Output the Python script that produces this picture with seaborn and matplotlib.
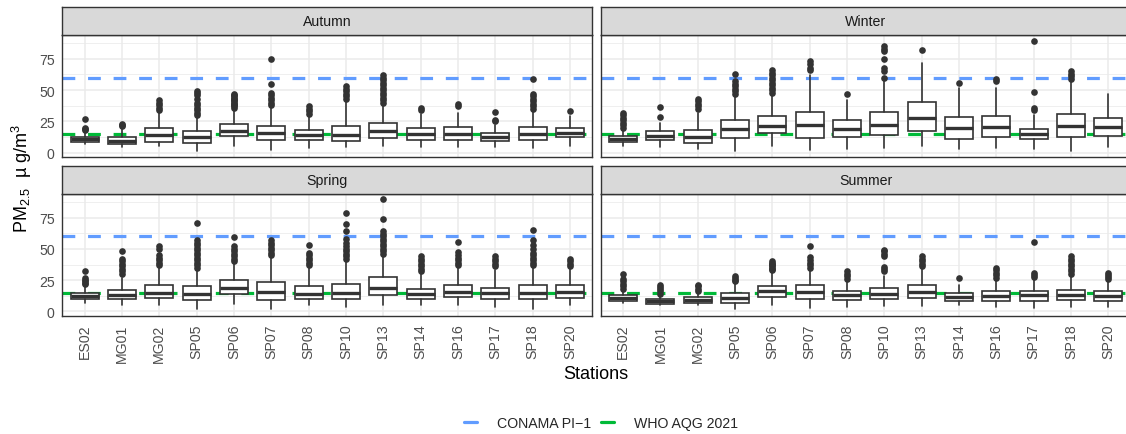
import matplotlib
matplotlib.use("Agg")
import matplotlib.pyplot as plt
import seaborn as sns
from matplotlib.lines import Line2D
from matplotlib.ticker import MultipleLocator

# ---- data ----
stations = ["ES02", "MG01", "MG02", "SP05", "SP06", "SP07", "SP08",
            "SP10", "SP13", "SP14", "SP16", "SP17", "SP18", "SP20"]
seasons = ["Autumn", "Winter", "Spring", "Summer"]

conama_pi1 = 60
who_aqg_2021 = 15

# Autumn
autumn_q1 = [8.8, 7.0, 8.8, 7.7, 13.6, 9.9, 9.9, 9.6, 11.7, 10.1, 9.9, 9.6, 10.4, 12.5]
autumn_med = [10.7, 9.6, 14.1, 12.5, 17.6, 15.5, 13.9, 14.1, 17.1, 14.9, 14.9, 12.8, 14.9, 16.0]
autumn_q3 = [12.8, 12.8, 19.5, 17.1, 22.7, 21.6, 18.4, 21.3, 23.7, 19.7, 20.5, 16.0, 20.3, 20.0]
autumn_lo = [6.7, 4.3, 5.1, 1.6, 5.6, 2.4, 3.5, 4.3, 5.6, 4.8, 4.8, 4.3, 3.5, 5.6]
autumn_hi = [16.5, 19, 32, 28, 34, 36, 29.5, 41, 38, 31, 32, 22, 33, 29]
autumn_out = [
    [18, 19, 20, 27],
    [21, 22, 23],
    [34, 36, 38, 40, 42.5],
    [30, 32, 34, 36, 38, 40, 43, 46, 48, 49.5],
    [36, 37, 38, 39, 40, 41, 42, 43, 44, 45, 46, 47],
    [38, 40, 42, 44, 46, 48, 55, 74.5],
    [31, 33, 35, 37.5],
    [43, 45, 47, 49, 51, 53],
    [40, 42, 44, 46, 48, 50, 52, 54, 56, 58, 60, 62],
    [34.5, 36],
    [37, 39],
    [25, 26, 32.5],
    [35, 37, 39, 41, 43, 45, 47, 59],
    [33],
]

# Winter
winter_q1 = [8.8, 9.9, 7.7, 11.5, 15.7, 12.0, 12.3, 14.1, 17.1, 10.9, 12.5, 10.9, 12.8, 13.6]
winter_med = [11.2, 13.6, 12.8, 18.9, 21.6, 22.1, 18.7, 22.4, 27.5, 19.7, 20.5, 14.9, 21.3, 20.5]
winter_q3 = [13.6, 17.1, 18.4, 26.4, 29.6, 32.8, 25.9, 32.3, 40.3, 28.5, 29.3, 19.2, 30.9, 27.7]
winter_lo = [5.6, 4.8, 3.2, 1.6, 5.6, 2.4, 3.0, 3.8, 5.6, 3.0, 3.5, 3.0, 1.6, 4.3]
winter_hi = [18, 24, 32, 45, 46, 62, 42, 57, 71.4, 51.4, 52, 30, 57, 46.9]
winter_out = [
    [20, 22, 24, 26, 28, 30, 32],
    [28.5, 36.7],
    [35, 37, 39, 41, 43],
    [47, 49, 51, 53, 55, 57.5, 63],
    [48, 50, 52, 54, 56, 58, 60, 62, 64, 66],
    [66, 68, 71, 73.5],
    [46.5],
    [60, 65, 68, 74.5, 81, 83, 85],
    [82],
    [56],
    [57, 59],
    [34, 36, 48.5, 89.5],
    [59, 61, 63, 65.5],
    [],
]

# Spring
spring_q1 = [9.6, 9.6, 10.7, 8.8, 14.1, 9.3, 10.1, 9.6, 12.8, 10.1, 11.5, 9.6, 9.6, 10.7]
spring_med = [12.5, 13.3, 14.9, 14.1, 18.7, 15.5, 14.1, 14.9, 18.7, 13.9, 15.5, 14.4, 14.9, 15.5]
spring_q3 = [14.9, 17.1, 21.3, 20.3, 24.8, 23.5, 20.3, 22.1, 27.2, 18.1, 20.8, 18.9, 20.8, 20.8]
spring_lo = [6.9, 5.4, 4.8, 1.6, 5.9, 2.2, 4.8, 3.5, 4.8, 4.8, 4.8, 3.5, 1.6, 4.8]
spring_hi = [20, 27, 36, 33, 39, 44, 35, 40, 44, 30, 35, 33, 36, 34]
spring_out = [
    [22, 23, 24, 25, 26.5, 32],
    [30, 32, 34, 36, 38, 40, 42, 48.5],
    [37, 39, 41, 43, 45, 50, 52.5],
    [35, 37, 39, 41, 43, 45, 47, 49, 51, 53, 55, 57, 71],
    [40, 42, 44, 46, 48, 50, 52.5, 59.5],
    [45, 47, 49, 51, 53, 55, 57],
    [37, 39, 41, 43, 45, 47, 53],
    [42, 44, 46, 48, 50, 52, 55, 58, 64, 70, 78.5],
    [46, 48, 50, 52, 54, 56, 58, 60, 62, 64, 74, 90],
    [32, 34, 36, 38, 40, 42, 44.5],
    [37, 39, 41, 43, 45, 47.5, 55.5],
    [36, 38, 40, 42, 44.5],
    [37, 39, 41, 43, 45, 47, 50, 53, 57, 65.5],
    [36, 38, 40, 42],
]

# Summer
summer_q1 = [8.5, 6.1, 6.9, 6.7, 11.7, 10.1, 8.8, 9.6, 10.7, 8.0, 8.5, 8.0, 8.8, 8.5]
summer_med = [10.7, 8.0, 9.1, 10.7, 16.0, 15.5, 12.8, 13.9, 15.5, 11.7, 12.5, 12.8, 13.3, 12.3]
summer_q3 = [12.8, 9.9, 11.2, 14.4, 20.3, 20.8, 16.0, 18.7, 21.3, 14.4, 16.5, 16.0, 17.3, 16.0]
summer_lo = [6.9, 4.8, 4.8, 1.6, 5.4, 2.7, 3.5, 4.5, 4.5, 4.8, 3.5, 2.7, 3.5, 3.5]
summer_hi = [17, 12.5, 14.5, 22.5, 32, 33, 24, 28, 34, 21, 26, 26, 29, 25]
summer_out = [
    [18, 20, 22, 24, 26, 30],
    [14, 16, 18, 19.5, 21],
    [16, 18, 20, 21.5],
    [24, 25.5, 27, 28.5],
    [33, 34, 35, 36, 37, 38, 39, 40.5],
    [35, 37, 39, 41, 43.5, 52.5],
    [26, 28, 30, 32.5],
    [32, 34, 35.5, 44, 46, 48, 49.5],
    [36, 38, 40, 42, 44],
    [26.5],
    [27, 29, 31, 33, 34.5],
    [27.5, 29, 31, 55.5],
    [30, 32, 34, 36, 38, 40, 42, 44.5],
    [26, 27.5, 29, 30.5],
]

season_stats = {
    "Autumn": (autumn_q1, autumn_med, autumn_q3, autumn_lo, autumn_hi, autumn_out),
    "Winter": (winter_q1, winter_med, winter_q3, winter_lo, winter_hi, winter_out),
    "Spring": (spring_q1, spring_med, spring_q3, spring_lo, spring_hi, spring_out),
    "Summer": (summer_q1, summer_med, summer_q3, summer_lo, summer_hi, summer_out),
}

# ---- style ----
sns.set_theme(style="white")
plt.rcParams["font.family"] = ["Liberation Sans", "DejaVu Sans"]
plt.rcParams["mathtext.fontset"] = "custom"
plt.rcParams["mathtext.rm"] = "Liberation Sans"
plt.rcParams["mathtext.it"] = "Liberation Sans:italic"

dark = "#333333"
small = 10.2   # tick / strip / legend text
title = 13.0   # axis titles
line_colors = sns.color_palette(["#619CFF", "#00BA38"])

W, H = 1126, 435
fig = plt.figure(figsize=(W / 100, H / 100), dpi=100)

def px_axes(x0, y0, x1, y1):
    return fig.add_axes([x0 / W, 1 - y1 / H, (x1 - x0) / W, (y1 - y0) / H])

col_x = [(62.3, 592.3), (600.7, 1130.7)]
row_y = [(36, 158), (195, 316.7)]
strip_y = [(8.3, 36), (167.3, 195)]
positions = list(range(len(stations)))

for k, season in enumerate(seasons):
    r, c = divmod(k, 2)
    ax = px_axes(col_x[c][0], row_y[r][0], col_x[c][1], row_y[r][1])
    q1, med, q3, lo, hi, out = season_stats[season]
    stats = [dict(q1=a, med=m, q3=b, whislo=l, whishi=h, fliers=f)
             for a, m, b, l, h, f in zip(q1, med, q3, lo, hi, out)]

    ax.axhline(conama_pi1, color=line_colors[0], lw=2.3, ls=(0, (4, 4)),
               dash_capstyle="butt", zorder=1.5)
    ax.axhline(who_aqg_2021, color=line_colors[1], lw=2.3, ls=(0, (4, 4)),
               dash_capstyle="butt", zorder=1.5)

    ax.bxp(stats, positions=positions, widths=0.75, patch_artist=True,
           showcaps=False, manage_ticks=False, zorder=3,
           boxprops=dict(facecolor="white", edgecolor=dark, linewidth=1.2),
           whiskerprops=dict(color=dark, linewidth=1.2),
           medianprops=dict(color=dark, linewidth=2.4, solid_capstyle="butt"),
           flierprops=dict(marker="o", markerfacecolor=dark, markeredgecolor="none",
                           markersize=4.8))

    ax.set_xlim(-0.6, len(stations) - 0.4)
    ax.set_ylim(-3.4, 94)
    ax.set_xticks(positions)
    ax.yaxis.set_major_locator(MultipleLocator(25))
    ax.yaxis.set_minor_locator(MultipleLocator(12.5))
    ax.set_axisbelow(True)
    ax.grid(which="major", color="#EBEBEB", lw=1.1)
    ax.grid(which="minor", axis="y", color="#EBEBEB", lw=0.55)
    ax.tick_params(which="minor", length=0)
    ax.tick_params(which="major", length=3.3, width=0.9, color=dark,
                   labelsize=small, labelcolor="#4D4D4D", pad=2.2)
    for s in ax.spines.values():
        s.set_color(dark)
        s.set_linewidth(1.0)
    if r == 1:
        ax.set_xticklabels(stations, rotation=90)
    else:
        ax.tick_params(axis="x", length=0, labelbottom=False)
    if c == 1:
        ax.tick_params(axis="y", length=0, labelleft=False)

    sax = px_axes(col_x[c][0], strip_y[r][0], col_x[c][1], strip_y[r][1])
    sax.set_facecolor("#D9D9D9")
    sax.set_xticks([])
    sax.set_yticks([])
    for s in sax.spines.values():
        s.set_color(dark)
        s.set_linewidth(1.0)
    sax.text(0.5, 0.5, season, transform=sax.transAxes, ha="center", va="center",
             fontsize=small, color="#1A1A1A")

fig.text(22 / W, 1 - 178 / H, "PM$_{2.5}$  µ g/m$^3$", rotation=90,
         ha="center", va="center", fontsize=title, color="black")
fig.text(596 / W, 1 - 375 / H, "Stations", ha="center", va="center",
         fontsize=title, color="black")

handles = [Line2D([], [], color=line_colors[0], lw=2.3),
           Line2D([], [], color=line_colors[1], lw=2.3)]
fig.legend(handles, ["CONAMA PI\u22121", "WHO AQG 2021"], loc="center",
           bbox_to_anchor=(601 / W, 1 - 424 / H), ncol=2, frameon=False,
           fontsize=small, handlelength=0.95, handletextpad=1.4, columnspacing=0.7)

fig.savefig("out.png", dpi=100)
